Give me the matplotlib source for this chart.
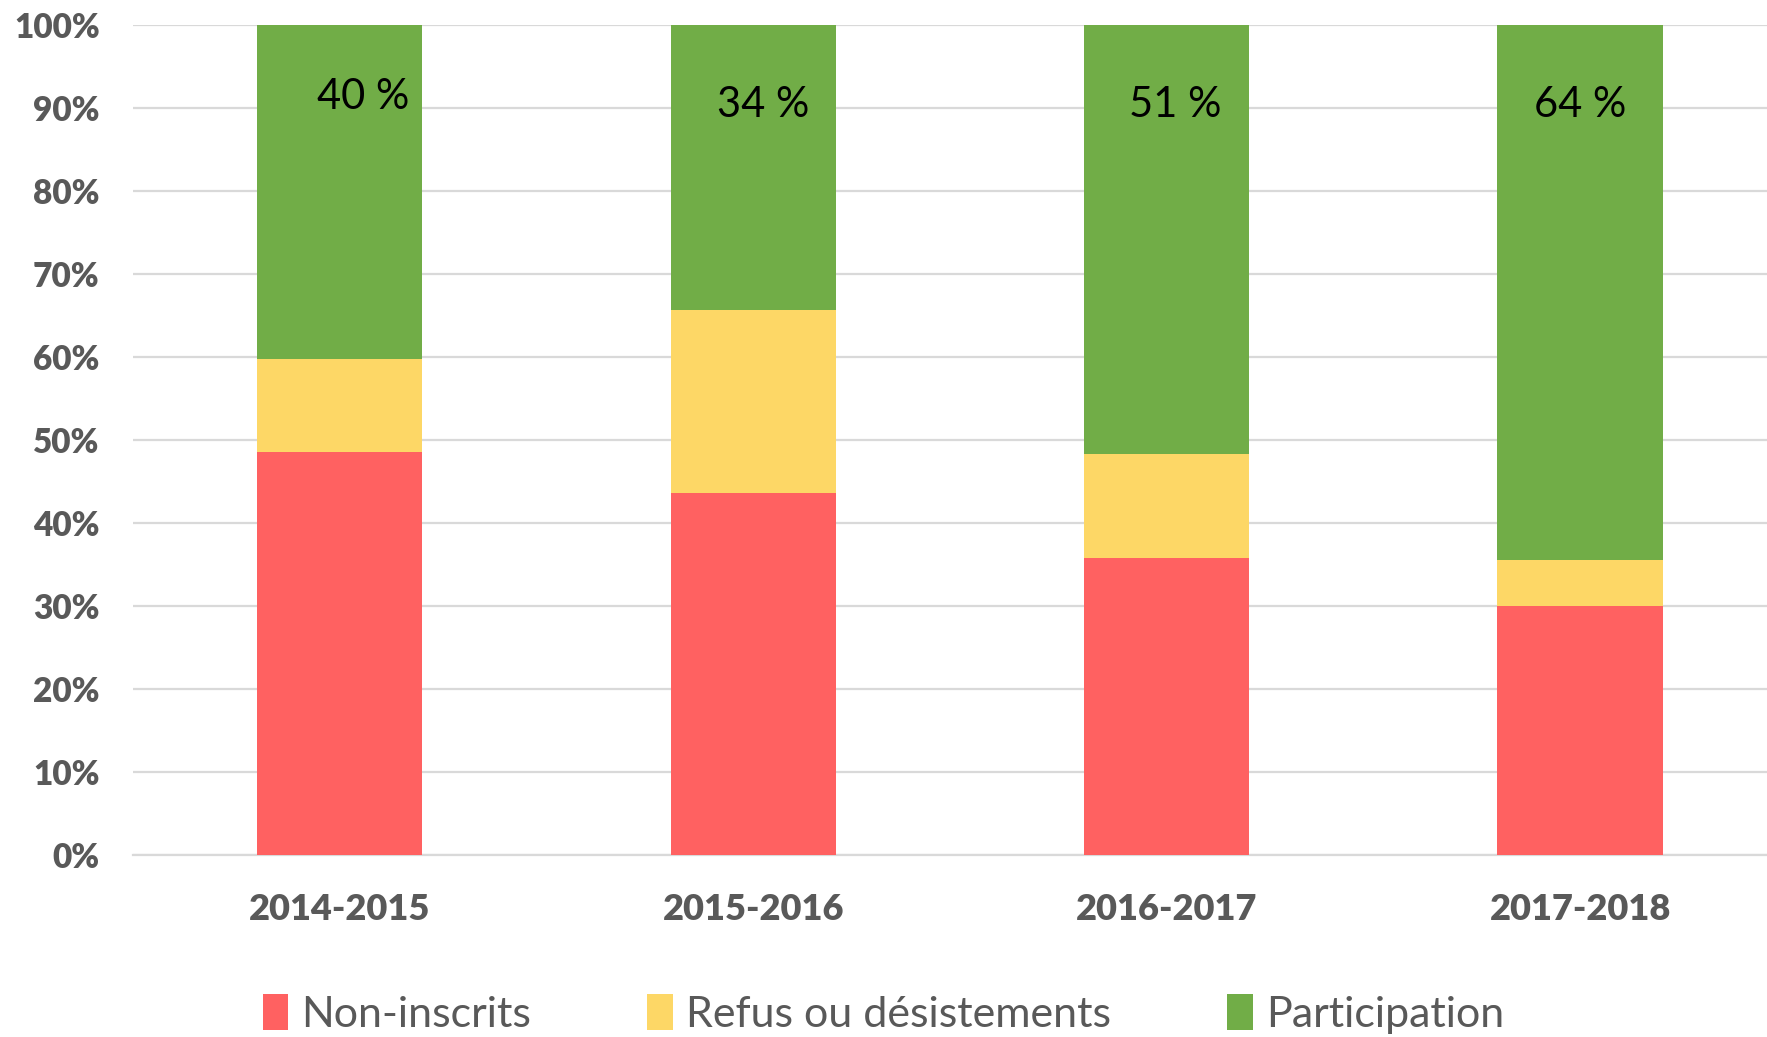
import matplotlib.pyplot as plt
from matplotlib.patches import Patch
from matplotlib.ticker import FuncFormatter

# -----------------------------------------------------------------------------
# DATA
# -----------------------------------------------------------------------------
YEARS = ["2014-2015", "2015-2016", "2016-2017", "2017-2018"]
NON_INSCRITS = [48.6, 43.6, 35.8, 30.0]
REFUS = [11.2, 22.1, 12.5, 5.5]
PARTICIPATION = [40.2, 34.3, 51.7, 64.5]
PARTICIPATION_LABELS = ["40 %", "34 %", "51 %", "64 %"]
SERIES_NAMES = ["Non-inscrits", "Refus ou désistements", "Participation"]

# Colors
COLOR_RED = "#FF6161"
COLOR_YELLOW = "#FDD766"
COLOR_GREEN = "#71AD47"
COLOR_GRID = "#D9D9D9"
COLOR_TEXT = "#595959"

plt.rcParams["font.family"] = ["Lato", "DejaVu Sans"]

fig = plt.figure(figsize=(17.67, 10.37), dpi=100)
ax = fig.add_axes([0.0753, 0.1755, 0.9247, 0.8005])

x = range(len(YEARS))
width = 0.4
bottoms_yellow = NON_INSCRITS
bottoms_green = [a + b for a, b in zip(NON_INSCRITS, REFUS)]

ax.bar(x, NON_INSCRITS, width, color=COLOR_RED, zorder=3)
ax.bar(x, REFUS, width, bottom=bottoms_yellow, color=COLOR_YELLOW, zorder=3)
ax.bar(x, PARTICIPATION, width, bottom=bottoms_green, color=COLOR_GREEN, zorder=3)

# participation labels near the top of the green segment
label_dx = [0.057, 0.025, 0.02, 0.0]
label_y = [91.3, 90.4, 90.4, 90.4]
for i, lab in enumerate(PARTICIPATION_LABELS):
    ax.text(i + label_dx[i], label_y[i], lab, ha="center", va="center",
            fontsize=30, color="black", zorder=4)

ax.set_xlim(-0.5, 3.452)
ax.set_ylim(0, 100)
ax.set_yticks(range(0, 101, 10))
ax.yaxis.set_major_formatter(FuncFormatter(lambda v, p: f"{v:.0f}%"))
ax.set_xticks(list(x))
ax.set_xticklabels(YEARS)

ax.tick_params(axis="y", length=0, pad=24, labelsize=24, labelcolor=COLOR_TEXT)
ax.tick_params(axis="x", length=0, pad=27, labelsize=26, labelcolor=COLOR_TEXT)
for t in ax.get_xticklabels() + ax.get_yticklabels():
    t.set_fontweight("heavy")

ax.grid(axis="y", color=COLOR_GRID, linewidth=1.6, zorder=0)
ax.set_axisbelow(True)
for side in ["top", "left", "right"]:
    ax.spines[side].set_visible(False)
ax.spines["bottom"].set_color(COLOR_GRID)
ax.spines["bottom"].set_linewidth(1.6)

handles = [Patch(facecolor=c, edgecolor="none")
           for c in [COLOR_RED, COLOR_YELLOW, COLOR_GREEN]]
leg = fig.legend(handles, SERIES_NAMES, loc="center", ncol=3,
                 bbox_to_anchor=(0.5, 0.022), frameon=False,
                 fontsize=31, handlelength=0.6, handleheight=0.9,
                 handletextpad=0.3, columnspacing=2.7)
for t in leg.get_texts():
    t.set_color(COLOR_TEXT)

fig.savefig("out.png", dpi=100, facecolor="white")
plt.close(fig)
